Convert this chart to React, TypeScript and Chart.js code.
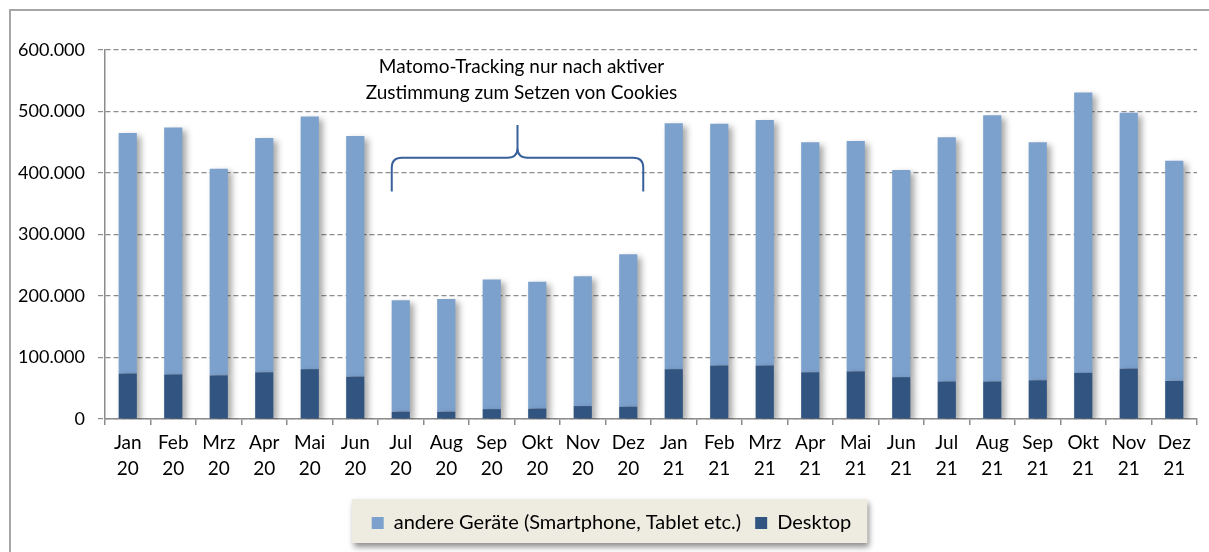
import React, { useEffect, useRef } from "react";
import { Chart, registerables } from "chart.js";

Chart.register(...registerables);

const monthNames = ["Jan", "Feb", "Mrz", "Apr", "Mai", "Jun", "Jul", "Aug", "Sep", "Okt", "Nov", "Dez"];
const years = ["20", "21"];
const categories: string[][] = years.flatMap((y) => monthNames.map((m) => [m, y]));

const desktopValues = [
  74000, 72500, 71000, 76000, 81000, 69000, 12000, 12000, 16000, 17000, 21000, 20000,
  81000, 87000, 87000, 76000, 77500, 68000, 61000, 61000, 63000, 75000, 82000, 62000,
];
const otherValues = [
  391000, 401500, 336000, 381000, 411000, 391000, 181000, 183000, 211000, 206000, 211000, 248000,
  400000, 393000, 399000, 374000, 374500, 337000, 397000, 433000, 387000, 456000, 416000, 358000,
];

const seriesNames = ["Desktop", "andere Geräte (Smartphone, Tablet etc.)"];
const annotationLines = ["Matomo-Tracking nur nach aktiver", "Zustimmung zum Setzen von Cookies"];
const annotationRange = [6, 11];
const annotationTextValues = [573000, 530000];
const bracketValues = [370000, 425000, 478000];

const yTicks = [0, 100000, 200000, 300000, 400000, 500000, 600000];

const FONT = "Lato, 'Open Sans', sans-serif";
const DARK = "#315480";
const LIGHT = "#7CA1CD";
const LEGEND_SHIFT = 13;

const fmt = (v: number) => {
  if (v === 0) return "0";
  const s = Math.round(v).toString();
  return s.replace(/\B(?=(\d{3})+(?!\d))/g, ".");
};

const framePlugin = {
  id: "frame",
  beforeDraw(chart: any) {
    const ctx = chart.ctx;
    ctx.save();
    ctx.fillStyle = "#ffffff";
    ctx.fillRect(0, 0, chart.width, chart.height);
    ctx.strokeStyle = "#a6a6a6";
    ctx.lineWidth = 2;
    ctx.strokeRect(10, 10, chart.width + 50, chart.height + 50);
    ctx.restore();
  },
};

const legendShiftPlugin = {
  id: "legendShift",
  afterLayout(chart: any) {
    const legend = chart.legend;
    if (!legend) return;
    legend.left += LEGEND_SHIFT;
    legend.right += LEGEND_SHIFT;
  },
};

const legendBgPlugin = {
  id: "legendBg",
  beforeDraw(chart: any) {
    const legend = chart.legend;
    if (!legend || !legend.legendHitBoxes || !legend.legendHitBoxes.length) return;
    const boxes = legend.legendHitBoxes;
    let minX = Infinity, maxX = -Infinity;
    boxes.forEach((b: any) => {
      minX = Math.min(minX, b.left);
      maxX = Math.max(maxX, b.left + b.width);
    });
    const ctx = chart.ctx;
    ctx.save();
    ctx.shadowColor = "rgba(0,0,0,0.45)";
    ctx.shadowBlur = 6;
    ctx.shadowOffsetX = 2;
    ctx.shadowOffsetY = 4;
    ctx.fillStyle = "#EEECE1";
    ctx.fillRect(minX - 20, legend.top, maxX - minX + 36, legend.height);
    ctx.restore();
  },
};

const shadowPlugin = {
  id: "barShadow",
  beforeDatasetsDraw(chart: any) {
    const ctx = chart.ctx;
    ctx.save();
    ctx.shadowColor = "rgba(0,0,0,0.35)";
    ctx.shadowBlur = 6;
    ctx.shadowOffsetX = 4;
    ctx.shadowOffsetY = 3;
  },
  afterDatasetsDraw(chart: any) {
    chart.ctx.restore();
  },
};

const annotationPlugin = {
  id: "annotation",
  afterDatasetsDraw(chart: any) {
    const ctx = chart.ctx;
    const xs = chart.scales.x;
    const ys = chart.scales.y;
    const xL = xs.getPixelForValue(annotationRange[0]) - 9;
    const xR = xs.getPixelForValue(annotationRange[1]) + 15;
    const xC = (xL + xR) / 2;
    const yB = ys.getPixelForValue(bracketValues[0]);
    const yM = ys.getPixelForValue(bracketValues[1]);
    const yP = ys.getPixelForValue(bracketValues[2]);
    ctx.save();
    ctx.strokeStyle = "#38609A";
    ctx.lineWidth = 2;
    ctx.beginPath();
    ctx.moveTo(xL, yB);
    ctx.lineTo(xL, yM + 10);
    ctx.quadraticCurveTo(xL, yM, xL + 10, yM);
    ctx.lineTo(xC - 10, yM);
    ctx.quadraticCurveTo(xC, yM, xC, yM - 10);
    ctx.lineTo(xC, yP);
    ctx.moveTo(xC, yM - 10);
    ctx.quadraticCurveTo(xC, yM, xC + 10, yM);
    ctx.lineTo(xR - 10, yM);
    ctx.quadraticCurveTo(xR, yM, xR, yM + 10);
    ctx.lineTo(xR, yB);
    ctx.stroke();
    ctx.fillStyle = "#000000";
    ctx.font = `19px ${FONT}`;
    ctx.textAlign = "center";
    ctx.textBaseline = "middle";
    annotationLines.forEach((line, i) => {
      ctx.fillText(line, xC + 4, ys.getPixelForValue(annotationTextValues[i]));
    });
    ctx.restore();
  },
};

export default function App() {
  const ref = useRef<HTMLCanvasElement | null>(null);

  useEffect(() => {
    if (!ref.current) return;
    const chart = new Chart(ref.current, {
      type: "bar",
      data: {
        labels: categories,
        datasets: [
          {
            label: seriesNames[0],
            data: desktopValues,
            backgroundColor: DARK,
            barPercentage: 0.4,
            categoryPercentage: 1,
          },
          {
            label: seriesNames[1],
            data: otherValues,
            backgroundColor: LIGHT,
            barPercentage: 0.4,
            categoryPercentage: 1,
          },
        ],
      },
      options: {
        responsive: false,
        animation: false,
        layout: { padding: { top: 50, right: 12, bottom: 9, left: 0 } },
        plugins: {
          tooltip: { enabled: false },
          legend: {
            position: "bottom",
            reverse: true,
            labels: {
              boxWidth: 12,
              boxHeight: 12,
              padding: 14,
              color: "#000",
              font: { family: FONT, size: 20 },
            },
          },
        },
        scales: {
          x: {
            stacked: true,
            afterFit: (s: any) => {
              s.height = 80;
            },
            border: { display: true, color: "#8c8c8c", width: 1.5 },
            grid: {
              display: true,
              drawOnChartArea: false,
              drawTicks: true,
              tickLength: 6,
              color: "#8c8c8c",
              lineWidth: 1.5,
              offset: true,
            },
            ticks: {
              color: "#000",
              font: { family: FONT, size: 19, lineHeight: 1.37 },
              padding: 5,
              maxRotation: 0,
              autoSkip: false,
            },
          },
          y: {
            stacked: true,
            min: 0,
            max: 600000,
            afterFit: (s: any) => {
              s.width = 105;
            },
            afterBuildTicks: (s: any) => {
              s.ticks = yTicks.map((v) => ({ value: v }));
            },
            border: { display: true, color: "#8c8c8c", width: 1.5, dash: [5, 3] },
            grid: {
              color: "#8c8c8c",
              lineWidth: 1.2,
              tickLength: 7,
              tickColor: "#8c8c8c",
              tickBorderDash: [5, 3],
            },
            ticks: {
              color: "#000",
              font: { family: FONT, size: 18 },
              padding: 13,
              callback: (v: any) => fmt(Number(v)),
            },
          },
        },
      },
      plugins: [framePlugin, legendShiftPlugin, legendBgPlugin, shadowPlugin, annotationPlugin],
    } as any);
    return () => chart.destroy();
  }, []);

  return (
    <div style={{ position: "fixed", left: 0, top: 0, width: 1209, height: 552 }}>
      <canvas ref={ref} width={1209} height={552} />
    </div>
  );
}
